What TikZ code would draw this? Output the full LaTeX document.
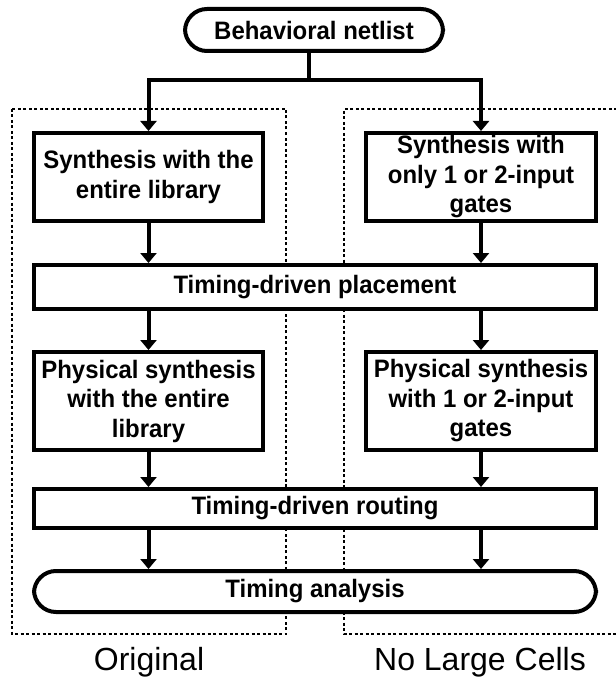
\documentclass[tikz,border=0pt]{standalone}
\usepackage{fontspec}
\setmainfont{Liberation Sans}
\newfontfamily\boxfont[FakeStretch=0.95]{Liberation Sans}
\usetikzlibrary{arrows.meta}
\tikzset{
  stepbox/.style={draw=black, line width=4pt, fill=white, align=center, inner sep=0pt,
    font=\boxfont\fontsize{25.2}{29.5}\selectfont\bfseries},
  stadium/.style={stepbox, rounded corners=22pt},
  conn/.style={line width=4pt, -{Triangle[width=16pt,length=10pt]}},
  plainconn/.style={line width=4pt},
  dotbox/.style={line width=1.6pt, dash pattern=on 3pt off 2.5pt},
  caption/.style={font=\fontsize{32}{36}\selectfont, inner sep=0pt}
}
\begin{document}
\begin{tikzpicture}[x=1pt,y=-1pt]
\useasboundingbox (0,0) rectangle (615,679);
% dotted group frames
\draw[dotbox] (12,109) rectangle (286,634);
\draw[dotbox] (617,109) -- (344,109) -- (344,634) -- (617,634);
% nodes
\node[stadium, minimum width=258pt, minimum height=42pt] (beh) at (314,30) {Behavioral netlist};
\node[stepbox, minimum width=229pt, minimum height=88pt] (synL) at (148.5,177) {Synthesis with the\\entire library};
\node[stepbox, minimum width=230pt, minimum height=88pt] (synR) at (481,177) {Synthesis with\\only 1 or 2-input\\gates};
\node[stepbox, minimum width=562pt, minimum height=44pt] (place) at (315,287) {Timing-driven placement};
\node[stepbox, minimum width=229pt, minimum height=98pt] (phyL) at (148.5,401) {Physical synthesis\\with the entire\\library};
\node[stepbox, minimum width=230pt, minimum height=98pt] (phyR) at (481,401) {Physical synthesis\\with 1 or 2-input\\gates};
\node[stepbox, minimum width=562pt, minimum height=39pt] (route) at (315,508.5) {Timing-driven routing};
\node[stadium, minimum width=562pt, minimum height=41pt] (ana) at (315,591.5) {Timing analysis};
\node[caption] (capL) at (149,662) {Original};
\node[caption] (capR) at (480,662) {No Large Cells};
% connectors
\coordinate (split) at ([xshift=-5pt]beh.south |- 0,80);
\draw[plainconn] ([xshift=-5pt]beh.south) -- (split);
\draw[conn] (split) -| (synL.north);
\draw[conn] (split) -| (synR.north);
\draw[conn] (synL.south) -- (synL.south |- place.north);
\draw[conn] (synR.south) -- (synR.south |- place.north);
\draw[conn] (place.south -| phyL.south) -- (phyL.north);
\draw[conn] (place.south -| phyR.south) -- (phyR.north);
\draw[conn] (phyL.south) -- (phyL.south |- route.north);
\draw[conn] (phyR.south) -- (phyR.south |- route.north);
\draw[conn] (route.south -| phyL.south) -- (phyL.south |- ana.north);
\draw[conn] (route.south -| phyR.south) -- (phyR.south |- ana.north);
\end{tikzpicture}
\end{document}
